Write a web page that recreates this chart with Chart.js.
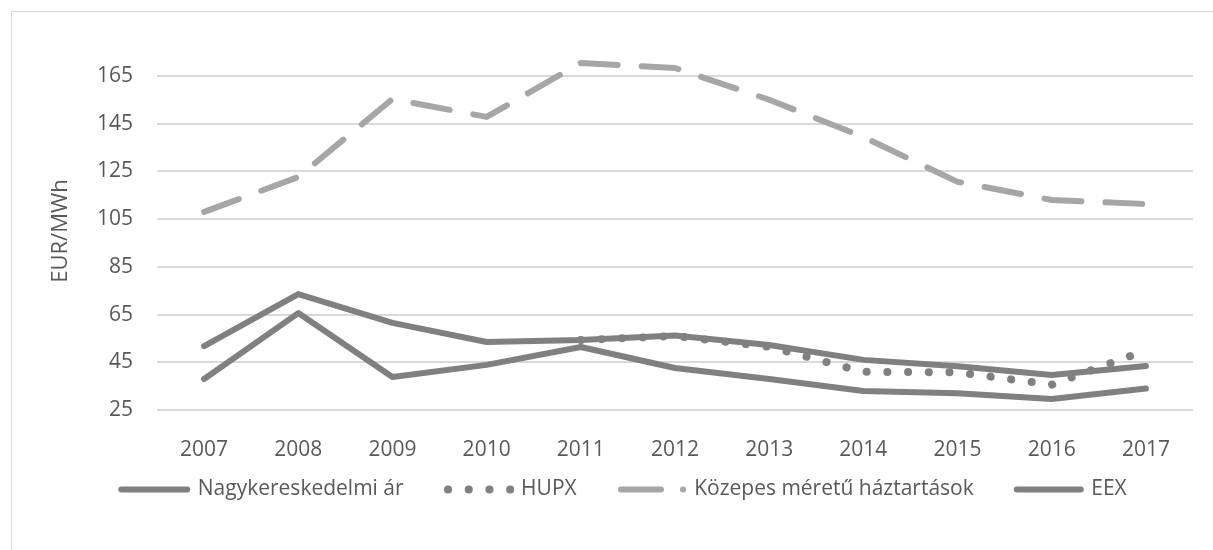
<!DOCTYPE html>
<html>
<head>
<meta charset="utf-8">
<script src="https://cdn.jsdelivr.net/npm/chart.js@4"></script>
<style>
  html, body { margin: 0; padding: 0; background: #fff; overflow: hidden; }
  #wrap { position: relative; width: 1213px; height: 550px; }
  #frame { position: absolute; left: 11px; top: 11px; width: 1300px; height: 700px; border: 1px solid #d9d9d9; }
  canvas { position: absolute; left: 0; top: 0; }
</style>
</head>
<body>
<div id="wrap">
  <div id="frame"></div>
  <canvas id="chart" width="1213" height="550"></canvas>
</div>
<script>
// --- data ---
const years = ["2007","2008","2009","2010","2011","2012","2013","2014","2015","2016","2017"];
const yTicks = [25, 45, 65, 85, 105, 125, 145, 165];
const wholesale = [51.8, 73.6, 61.5, 53.5, 54.3, 56.2, 52.2, 46.0, 43.3, 39.7, 43.4];
const hupx      = [null, null, null, null, 54.3, 56.0, 51.5, 41.0, 40.8, 35.6, 50.0];
const households = [108.0, 122.6, 155.3, 147.8, 170.4, 168.3, 155.0, 139.4, 120.6, 113.0, 111.3];
const eex       = [38.0, 65.6, 38.8, 43.9, 51.4, 42.6, 38.0, 33.0, 32.0, 29.6, 34.0];

const DARK = "#808080", LIGHT = "#a6a6a6", TEXT = "#595959", GRID = "#d9d9d9";
const FONT = "'Open Sans', sans-serif";

// legend samples sit at the right end of a wider box (dash offset puts a
// blank stretch first), so the empty left part works as item spacing
const datasets = [
  { label: "Nagykereskedelmi ár", data: wholesale, borderColor: DARK, borderWidth: 6,
    borderCapStyle: "round", borderJoinStyle: "round",
    legendDash: [66, 300], legendOffset: 339 },
  { label: "HUPX", data: hupx, borderColor: DARK, borderWidth: 8,
    borderDash: [0.1, 20.6], borderCapStyle: "round",
    legendDash: [0.1, 20.6, 0.1, 20.6, 0.1, 20.6, 0.1, 300], legendOffset: 331.8 },
  { label: "Közepes méretű háztartások", data: households, borderColor: LIGHT, borderWidth: 6,
    borderDash: [37, 24], borderCapStyle: "round", borderJoinStyle: "round",
    legendDash: [40, 22, 0.1, 300], legendOffset: 331.8 },
  { label: "EEX", data: eex, borderColor: DARK, borderWidth: 6,
    borderCapStyle: "round", borderJoinStyle: "round",
    legendDash: [64, 300], legendOffset: 335 },
].map(d => ({ ...d, fill: false, tension: 0, pointRadius: 0, pointHoverRadius: 0, spanGaps: false }));

new Chart(document.getElementById("chart"), {
  type: "line",
  data: { labels: years, datasets },
  options: {
    responsive: false,
    animation: false,
    layout: { padding: { left: 28, right: 20, top: 52, bottom: 40 } },
    plugins: {
      tooltip: { enabled: false },
      legend: {
        position: "bottom",
        labels: {
          usePointStyle: true,
          pointStyleWidth: 93,
          padding: 14,
          color: TEXT,
          font: { family: FONT, size: 21 },
          generateLabels: chart => chart.data.datasets.map((d, i) => ({
            text: d.label,
            fillStyle: d.borderColor,
            strokeStyle: d.borderColor,
            lineWidth: d.borderWidth,
            lineDash: d.legendDash,
            lineDashOffset: d.legendOffset,
            lineCap: "round",
            pointStyle: "line",
            fontColor: TEXT,
            datasetIndex: i,
          })),
        },
      },
    },
    scales: {
      x: {
        offset: true,
        grid: { display: false },
        border: { display: false },
        ticks: { color: TEXT, font: { family: FONT, size: 21 }, padding: 19, maxRotation: 0 },
        afterFit: s => { s.height = 55; },
      },
      y: {
        min: 25, max: 175,
        grid: { color: GRID, lineWidth: 2, drawTicks: false },
        border: { display: false },
        afterBuildTicks: s => { s.ticks = yTicks.map(v => ({ value: v })); },
        ticks: { color: TEXT, font: { family: FONT, size: 21 }, padding: 24 },
        title: { display: true, text: "EUR/MWh", color: TEXT, font: { family: FONT, size: 22 }, padding: { top: 20, bottom: 18 } },
        afterFit: s => { s.width = 129; },
      },
    },
  },
});
</script>
</body>
</html>
